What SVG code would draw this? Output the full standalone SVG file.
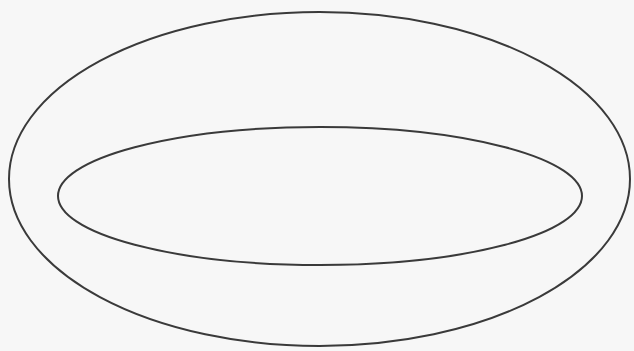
<svg xmlns="http://www.w3.org/2000/svg" width="634" height="351" viewBox="0 0 634 351">
<style>
.ring{fill:none;stroke:#3a3a3a;stroke-width:2}
</style>
<rect width="634" height="351" fill="#f7f7f7"/>
<g id="outer"><ellipse class="ring" cx="319.5" cy="179" rx="310.5" ry="167"/></g>
<g id="inner"><ellipse class="ring" cx="320" cy="196" rx="262" ry="69"/></g>
</svg>
